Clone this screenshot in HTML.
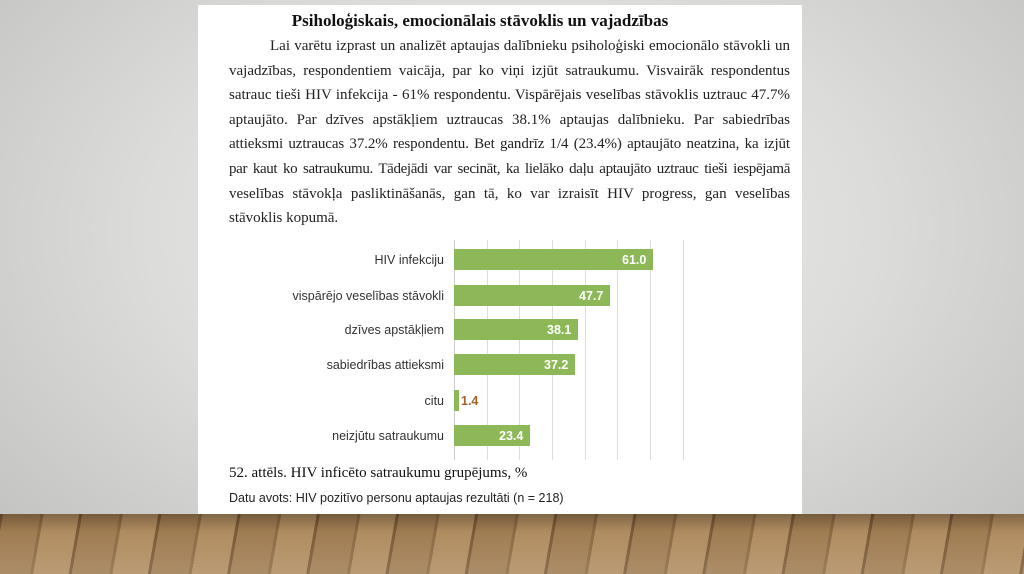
<!DOCTYPE html>
<html><head><meta charset="utf-8"><style>
body{margin:0;width:1024px;height:574px;overflow:hidden;position:relative;
background:radial-gradient(ellipse at 50% 40%,#efefed 0%,#dcdcda 50%,#bfbfbd 100%);}
.floor{position:absolute;left:0;top:514px;width:1024px;height:60px;
background:repeating-linear-gradient(100deg,#7a5a38 0 3px,#a07c52 3px 40px,#8c6a44 40px 43px,#b08c60 43px 78px);}
.floor:after{content:"";position:absolute;inset:0;background:linear-gradient(#0004,#0000 30%,#fff2)}
.page{position:absolute;left:198px;top:5px;width:604px;height:509px;background:#fff;}
.t{position:absolute;font-family:"Liberation Serif",serif;color:#111;}
h1{position:absolute;left:0;width:564px;top:6px;margin:0;text-align:center;font:bold 17px "Liberation Serif",serif;color:#111}
.p{position:absolute;left:31px;width:561px;top:29px;font:15px/24.6px "Liberation Serif",serif;color:#222}
.p div{text-align:justify;text-align-last:justify;white-space:nowrap;height:24.6px}
.p div.l{text-align-last:left}
.lab{position:absolute;right:358px;font:12.5px "Liberation Sans",sans-serif;color:#333;white-space:nowrap}
.bar{position:absolute;left:256px;height:21px;background:#8db857}
.v{position:absolute;font:bold 12.5px "Liberation Sans",sans-serif;color:#fff;}
.g{position:absolute;top:235px;height:220px;width:1px;background:#ddd}
</style></head><body>
<div class="page">
<h1>Psiholoģiskais, emocionālais stāvoklis un vajadzības</h1>
<div class="p">
<div style="padding-left:41px">Lai varētu izprast un analizēt aptaujas dalībnieku psiholoģiski emocionālo stāvokli un</div>
<div>vajadzības, respondentiem vaicāja, par ko viņi izjūt satraukumu. Visvairāk respondentus</div>
<div>satrauc tieši HIV infekcija - 61% respondentu. Vispārējais veselības stāvoklis uztrauc 47.7%</div>
<div>aptaujāto. Par dzīves apstākļiem uztraucas 38.1% aptaujas dalībnieku. Par sabiedrības</div>
<div style="letter-spacing:-0.1px">attieksmi uztraucas 37.2% respondentu. Bet gandrīz 1/4 (23.4%) aptaujāto neatzina, ka izjūt</div>
<div style="letter-spacing:-0.35px">par kaut ko satraukumu. Tādejādi var secināt, ka lielāko daļu aptaujāto uztrauc tieši iespējamā</div>
<div>veselības stāvokļa pasliktināšanās, gan tā, ko var izraisīt HIV progress, gan veselības</div>
<div class="l">stāvoklis kopumā.</div>
</div>
<div class="g" style="left:256px;background:#ccc"></div>
<div class="g" style="left:289px"></div><div class="g" style="left:321px"></div><div class="g" style="left:354px"></div>
<div class="g" style="left:387px"></div><div class="g" style="left:419px"></div><div class="g" style="left:452px"></div><div class="g" style="left:485px"></div>
<div class="bar" style="top:244px;width:199px"></div><div class="v" style="left:424px;top:248px">61.0</div>
<div class="bar" style="top:280px;width:156px"></div><div class="v" style="left:381px;top:284px">47.7</div>
<div class="bar" style="top:314px;width:124px"></div><div class="v" style="left:349px;top:318px">38.1</div>
<div class="bar" style="top:349px;width:121px"></div><div class="v" style="left:346px;top:353px">37.2</div>
<div class="bar" style="top:385px;width:5px"></div><div class="v" style="left:263px;top:389px;color:#a0642a">1.4</div>
<div class="bar" style="top:420px;width:76px"></div><div class="v" style="left:301px;top:424px">23.4</div>
<div class="lab" style="top:248px">HIV infekciju</div>
<div class="lab" style="top:284px">vispārējo veselības stāvokli</div>
<div class="lab" style="top:318px">dzīves apstākļiem</div>
<div class="lab" style="top:353px">sabiedrības attieksmi</div>
<div class="lab" style="top:389px">citu</div>
<div class="lab" style="top:424px">neizjūtu satraukumu</div>
<div class="t" style="left:31px;top:460px;font-size:15px">52. attēls. HIV inficēto satraukumu grupējums, %</div>
<div class="t" style="left:31px;top:486px;font:12.5px 'Liberation Sans',sans-serif;color:#222">Datu avots: HIV pozitīvo personu aptaujas rezultāti (n = 218)</div>
</div>
<div class="floor"></div>
</body></html>
